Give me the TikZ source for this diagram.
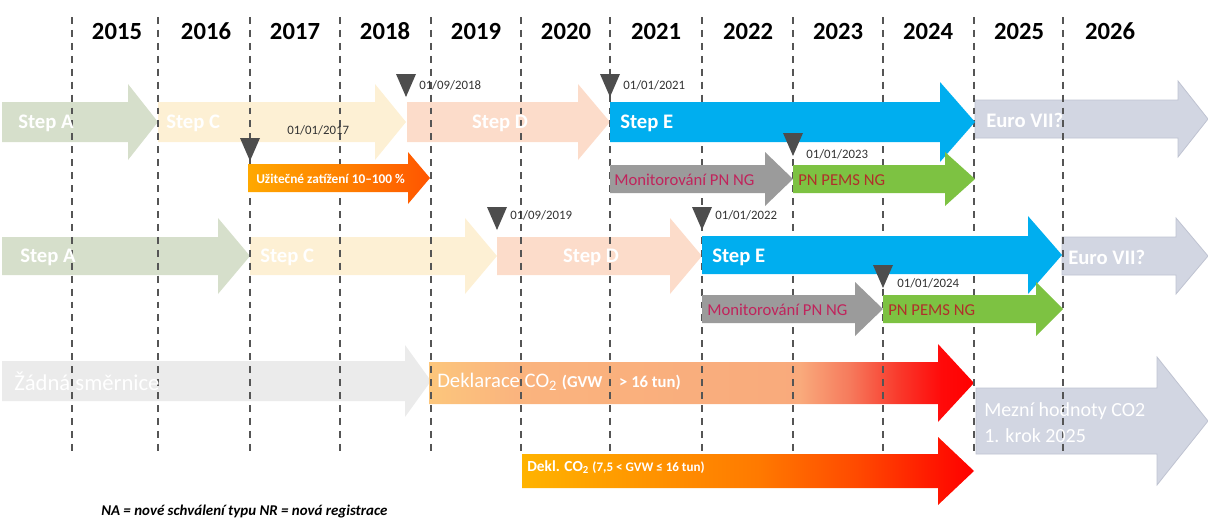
\documentclass[tikz,border=0pt]{standalone}
\usepackage{fontspec}
\setmainfont{Carlito}

% colours
\definecolor{stepAc}{HTML}{D6DFCB}
\definecolor{stepCc}{HTML}{FDF0D4}
\definecolor{stepDc}{HTML}{FCDCCA}
\definecolor{stepEc}{HTML}{00AEEF}
\definecolor{euroc}{HTML}{D2D6E2}
\definecolor{euroline}{HTML}{BFC3D1}
\definecolor{monic}{HTML}{9B9B9B}
\definecolor{pemsc}{HTML}{7DC242}
\definecolor{nonec}{HTML}{EBEBEB}
\definecolor{markc}{HTML}{4D4D4D}
\definecolor{gridc}{HTML}{555555}
\definecolor{monitext}{HTML}{C0245C}
\definecolor{pemstext}{HTML}{B0302A}
\definecolor{datec}{HTML}{333333}
% gradient stops
\definecolor{dbA}{HTML}{FCC67C}
\definecolor{dbB}{HTML}{FAB47E}
\definecolor{dbC}{HTML}{F9AA7C}
\definecolor{dbD}{HTML}{F67A5C}
\definecolor{dbE}{HTML}{F93A2C}
\definecolor{dbF}{HTML}{FF0A0A}
\definecolor{redend}{HTML}{FF0000}
\definecolor{dsA}{HTML}{FFB300}
\definecolor{dsB}{HTML}{FF9600}
\definecolor{dsC}{HTML}{FF7A00}
\definecolor{dsD}{HTML}{FF4A00}
\definecolor{dsE}{HTML}{FF1500}
\definecolor{plA}{HTML}{FFA800}
\definecolor{plB}{HTML}{FF8200}
\definecolor{plC}{HTML}{FF5500}

% gradient of the CO2 declaration arrow (GVW > 16 t)
\pgfdeclarehorizontalshading{deklbig}{100bp}{%
  color(0bp)=(dbA); color(25bp)=(dbA);
  color(33bp)=(dbB); color(59bp)=(dbC);
  color(63.6bp)=(dbD); color(68bp)=(dbE);
  color(72bp)=(dbF); color(75bp)=(redend);
  color(100bp)=(redend)}
% gradient of the CO2 declaration arrow (7,5 < GVW <= 16 t)
\pgfdeclarehorizontalshading{deklsmall}{100bp}{%
  color(0bp)=(dsA); color(25bp)=(dsA);
  color(38bp)=(dsB); color(51bp)=(dsC);
  color(62bp)=(dsD); color(71bp)=(dsE);
  color(75bp)=(redend); color(100bp)=(redend)}
% gradient of the payload arrow
\pgfdeclarehorizontalshading{payload}{100bp}{%
  color(0bp)=(plA); color(25bp)=(plA);
  color(50bp)=(plB); color(75bp)=(plC);
  color(100bp)=(plC)}

% block arrow: options, left x, head start x, tip x, centre y, half body, half head
\newcommand\blockarrow[7]{%
  \path[#1] (#2,#5-#6) -- (#3,#5-#6) -- (#3,#5-#7) -- (#4,#5)
    -- (#3,#5+#7) -- (#3,#5+#6) -- (#2,#5+#6) -- cycle;}
% date marker: x of the tip, top y
\newcommand\datemarker[2]{%
  \fill[markc] (#1-10,#2) -- (#1+10,#2) -- (#1,#2+23) -- cycle;}

\begin{document}
\begin{tikzpicture}[x=0.75pt,y=-0.75pt,
  year/.style={font=\bfseries\fontsize{18.5}{20}\selectfont, text=black},
  steplabel/.style={font=\bfseries\fontsize{15.5}{18}\selectfont, text=white, anchor=west, inner sep=0pt},
  datelabel/.style={font=\fontsize{9.6}{11}\selectfont, text=datec, anchor=west, inner sep=0pt},
  monilabel/.style={font=\fontsize{12.5}{14}\selectfont, text=monitext, anchor=west, inner sep=0pt},
  pemslabel/.style={font=\fontsize{12.5}{14}\selectfont, text=pemstext, anchor=west, inner sep=0pt},
  gridline/.style={draw=gridc, line width=1pt, dash pattern=on 5.2pt off 4.5pt}]

\useasboundingbox (0,0) rectangle (1208,521);

% ---------- pale (background) arrows ----------
% row 1
\blockarrow{fill=stepAc}{2}{128}{158}{122}{20}{38}
\blockarrow{fill=stepCc}{158}{375}{406}{122}{20}{38}
\blockarrow{fill=stepDc}{407}{578}{610}{122}{20}{38}
\blockarrow{fill=euroc, draw=euroline, line width=0.6pt}{975}{1178}{1208}{119}{19}{38}
% row 2
\blockarrow{fill=stepAc}{2}{218}{250}{256}{19}{38}
\blockarrow{fill=stepCc}{250}{465}{497}{256}{19}{38}
\blockarrow{fill=stepDc}{497}{670}{702}{256}{19}{38}
\blockarrow{fill=euroc, draw=euroline, line width=0.6pt}{1062}{1176}{1208}{256}{19}{38}
% row 3
\blockarrow{fill=nonec}{2}{405}{431}{381}{20}{36}
\blockarrow{shade, shading=deklbig}{429}{938}{974}{383}{21}{39}
\blockarrow{fill=euroc, draw=euroline, line width=0.6pt}{976}{1157}{1208}{421}{33}{64}

% ---------- year grid ----------
\foreach \x in {72,158,250,340,431,521,610,702,793,883,974,1063}
  \draw[gridline] (\x,17) -- (\x,456);
\foreach \x/\y in {117/2015,206/2016,295/2017,385/2018,476/2019,566/2020,656/2021,748/2022,838/2023,928/2024,1019/2025,1110/2026}
  \node[year] (y\y) at (\x,31) {\y};

% ---------- solid arrows ----------
\blockarrow{fill=stepEc}{610}{940}{975}{122}{20}{40}
\blockarrow{shade, shading=payload}{248}{408}{430}{178}{14}{26}
\blockarrow{fill=monic}{610}{765}{793}{179}{14}{27}
\blockarrow{fill=pemsc}{793}{945}{975}{179}{14}{27}
\blockarrow{fill=stepEc}{702}{1028}{1062}{255}{19}{39}
\blockarrow{fill=monic}{702}{855}{883}{309}{14}{27}
\blockarrow{fill=pemsc}{883}{1036}{1063}{309}{14}{27}
\blockarrow{shade, shading=deklsmall}{522}{938}{974}{471}{17}{34}

% ---------- date markers ----------
\datemarker{406}{74}
\datemarker{610}{74}
\datemarker{250}{138}
\datemarker{793}{133}
\datemarker{497}{207}
\datemarker{702}{207}
\datemarker{883}{265}

\node[datelabel] (d2018) at (419,85) {01/09/2018};
\node[datelabel] (d2021) at (623,85) {01/01/2021};
\node[datelabel] (d2017) at (287,130) {01/01/2017};
\node[datelabel] (d2023) at (806,154) {01/01/2023};
\node[datelabel] (d2019) at (510,215) {01/09/2019};
\node[datelabel] (d2022) at (715,215) {01/01/2022};
\node[datelabel] (d2024) at (897,283) {01/01/2024};

% ---------- labels ----------
\node[steplabel] (a1) at (18,123) {Step A};
\node[steplabel] (c1) at (166,123) {Step C};
\node[steplabel, anchor=center] (dd1) at (500,123) {Step D};
\node[steplabel] (e1) at (620,123) {Step E};
\node[steplabel] (eu1) at (986,120) {Euro VII?};

\node[steplabel] (a2) at (20,257) {Step A};
\node[steplabel] (c2) at (260,257) {Step C};
\node[steplabel, anchor=center] (dd2) at (591,257) {Step D};
\node[steplabel] (e2) at (712,257) {Step E};
\node[steplabel] (eu2) at (1068,257) {Euro VII?};

\node[font=\bfseries\fontsize{10}{12}\selectfont, text=white, anchor=west, inner sep=0pt]
  (pay) at (256,179) {Užitečné zatížení 10–100 \%};
\node[monilabel] (m1) at (614,180) {Monitorování PN NG};
\node[pemslabel] (p1) at (798,180) {PN PEMS NG};
\node[monilabel] (m2) at (707,310) {Monitorování PN NG};
\node[pemslabel] (p2) at (888,310) {PN PEMS NG};

\node[font=\fontsize{17}{19}\selectfont, text=white, anchor=west, inner sep=0pt]
  (none) at (14,381) {Žádná směrnice};
\node[text=white, anchor=west, inner sep=0pt] (dekl1) at (437,382)
  {\fontsize{15.5}{18}\selectfont Deklarace CO\textsubscript{2}
   {\bfseries\fontsize{12.5}{14}\selectfont (GVW\quad > 16 tun)}};
\node[text=white, anchor=west, inner sep=0pt] (dekl2) at (527,467)
  {\bfseries\fontsize{11.5}{14}\selectfont Dekl. CO\textsubscript{2}
   {\fontsize{9.8}{11}\selectfont (7,5 < GVW ≤ 16 tun)}};
\node[font=\fontsize{15}{19.5}\selectfont, text=white, anchor=west, align=left, inner sep=0pt]
  (limit) at (984,423) {Mezní hodnoty CO2\\1. krok 2025};

\node[font=\bfseries\itshape\fontsize{11.2}{13}\selectfont, anchor=west, inner sep=0pt]
  (note) at (101,512) {NA = nové schválení typu NR = nová registrace};
\end{tikzpicture}
\end{document}
